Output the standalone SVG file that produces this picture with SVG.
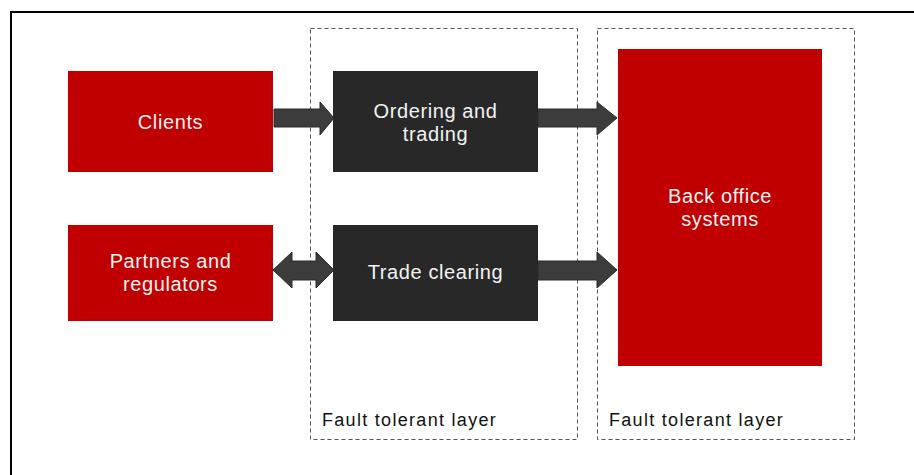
<svg xmlns="http://www.w3.org/2000/svg" width="914" height="475" viewBox="0 0 914 475">
  <style>
    .red { fill: #c00000; }
    .dark { fill: #282828; }
    .lbl { font-family: "Liberation Sans", Arial, sans-serif; font-size: 20px; letter-spacing: 0.6px; fill: #f2f2f2; text-anchor: middle; }
    .layer { fill: none; stroke: #555; stroke-width: 1; stroke-dasharray: 4 3; }
    .layer-lbl { font-family: "Liberation Sans", Arial, sans-serif; font-size: 18px; letter-spacing: 1.3px; fill: #111; }
    .arrow { fill: #3c3c3c; stroke: #2a2a2a; stroke-width: 1; }
  </style>

  <rect x="0" y="0" width="914" height="475" fill="#ffffff"/>
  <!-- outer frame -->
  <rect x="11" y="12" width="920" height="480" fill="none" stroke="#000" stroke-width="2"/>

  <!-- fault tolerant layers -->
  <g id="layer-1">
    <rect class="layer" x="310.5" y="28.5" width="267" height="411"/>
    <text class="layer-lbl" x="322" y="426">Fault tolerant layer</text>
  </g>
  <g id="layer-2">
    <rect class="layer" x="597.5" y="28.5" width="257" height="411"/>
    <text class="layer-lbl" x="609" y="426">Fault tolerant layer</text>
  </g>

  <g id="clients">
    <rect class="red" x="68" y="71" width="205" height="101"/>
    <text class="lbl" x="170.5" y="129">Clients</text>
  </g>
  <g id="partners">
    <rect class="red" x="68" y="225" width="205" height="96"/>
    <text class="lbl" x="170.5" y="268">Partners and</text>
    <text class="lbl" x="170.5" y="291">regulators</text>
  </g>
  <g id="ordering">
    <rect class="dark" x="333" y="71" width="205" height="101"/>
    <text class="lbl" x="435.5" y="118">Ordering and</text>
    <text class="lbl" x="435.5" y="141">trading</text>
  </g>
  <g id="clearing">
    <rect class="dark" x="333" y="225" width="205" height="96"/>
    <text class="lbl" x="435.5" y="279">Trade clearing</text>
  </g>
  <g id="back-office">
    <rect class="red" x="618" y="49" width="204" height="317"/>
    <text class="lbl" x="720" y="203">Back office</text>
    <text class="lbl" x="720" y="226">systems</text>
  </g>

  <g id="connectors">
    <!-- Clients to Ordering -->
    <polygon class="arrow" points="274,109 320,109 320,102 334,118 320,135 320,127 274,127"/>
    <!-- Partners to/from Clearing -->
    <polygon class="arrow" points="273,270 292,252 292,261 316,261 316,252 334,270 316,288 316,280 292,280 292,288"/>
    <!-- Ordering to Back office -->
    <polygon class="arrow" points="538,109 597,109 597,102 617,118 597,135 597,127 538,127"/>
    <!-- Clearing to Back office -->
    <polygon class="arrow" points="538,261 597,261 597,252 617,270 597,288 597,280 538,280"/>
  </g>
</svg>
